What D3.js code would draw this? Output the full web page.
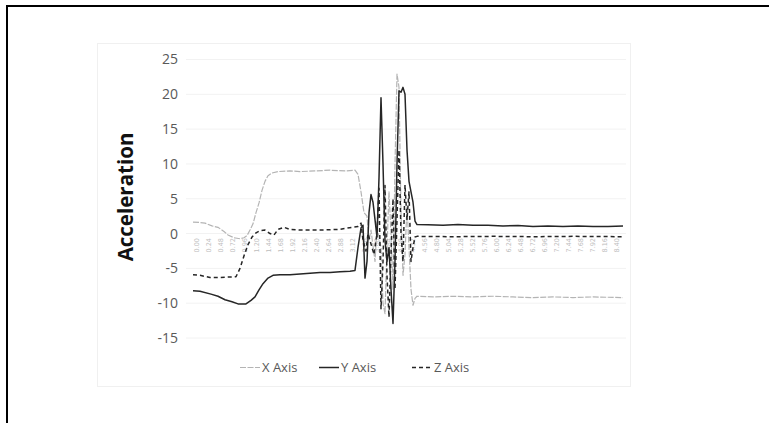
<!DOCTYPE html>
<html lang="en">
<head>
<meta charset="UTF-8">
<title>Acceleration</title>
<script src="https://d3js.org/d3.v7.min.js"></script>
<style>
  body { margin: 0; background: #fff; }
  svg { display: block; }
</style>
</head>
<body>
<svg id="chart" width="769" height="423"></svg>
<script>
// sample index -> acceleration
const xAxisData = [[0,1.65],[6,1.6],[12,1.5],[19,1.1],[25,0.9],[31,0.3],[35,-0.2],[41,-0.6],[47,-0.75],[51,-0.6],[54,-0.3],[57,0.5],[60,1.4],[63,3.0],[66,4.4],[69,6.2],[72,7.5],[75,8.3],[79,8.7],[85,8.9],[97,9.0],[107,8.9],[122,9.0],[137,9.1],[152,9.0],[162,9.1],[165,8.5],[168,6],[171,3],[174,2.5],[176,-1],[178,0.5],[182,-4],[184,1],[188,-2],[190,-10],[192,-11.5],[194,-2],[196,6],[198,0],[200,-8],[202,10],[204,22.9],[206,21],[208,3],[210,-6],[212,-3],[214,4],[216,-2],[218,-8],[220,-10.3],[222,-9.3],[224,-9.0],[240,-9.1],[260,-9.0],[280,-9.1],[300,-9.0],[320,-9.1],[340,-9.2],[360,-9.1],[380,-9.2],[400,-9.1],[430,-9.2]];
const yAxisData = [[0,-8.2],[7,-8.3],[18,-8.7],[25,-9.0],[32,-9.5],[39,-9.8],[45,-10.1],[53,-10.1],[58,-9.6],[62,-9.1],[66,-8.1],[70,-7.2],[75,-6.4],[80,-6.0],[87,-5.9],[97,-5.9],[107,-5.8],[117,-5.7],[127,-5.6],[137,-5.6],[147,-5.5],[157,-5.4],[162,-5.3],[165,-2],[168,0.8],[170,1.2],[172,-6.4],[174,-4],[176,3],[178,5.6],[180,4.5],[182,2],[184,-0.5],[186,8],[188,19.5],[190,10],[192,-1],[194,-4],[196,-2],[198,-8],[200,-12.9],[202,-4],[204,10],[206,20.5],[208,20.3],[210,21],[212,20],[214,12],[216,7.5],[218,6],[220,4.5],[222,1.8],[224,1.3],[235,1.25],[250,1.2],[265,1.3],[280,1.2],[295,1.2],[310,1.1],[325,1.15],[340,1.0],[355,1.1],[370,1.0],[385,1.1],[400,1.0],[415,1.0],[430,1.1]];
const zAxisData = [[0,-5.9],[7,-6.0],[17,-6.3],[27,-6.3],[43,-6.2],[47,-5.0],[51,-3.2],[55,-1.6],[59,-0.5],[63,0.1],[67,0.4],[72,0.5],[77,0.0],[81,-0.2],[85,0.6],[91,0.9],[97,0.6],[107,0.5],[127,0.5],[147,0.6],[159,0.9],[165,1.0],[168,1.5],[170,-1],[173,-2.5],[175,0],[178,-1.5],[181,-3],[184,0],[186,6.5],[188,-10.8],[190,-4],[192,6.9],[194,-6],[196,-12],[198,-3],[200,5],[202,-8],[204,2],[206,12],[208,0],[210,-4],[212,7],[214,2],[216,6],[218,-4],[220,-2],[222,-0.5],[224,-0.4],[260,-0.45],[300,-0.4],[340,-0.45],[380,-0.4],[430,-0.45]];

const yTicks = [-15, -10, -5, 0, 5, 10, 15, 20, 25];
// time labels on the category axis, one every 12 samples
const tickLabels = ["0.00","0.24","0.48","0.72","0.96","1.20","1.44","1.68","1.92","2.16","2.40","2.64","2.88","3.12","3.36","3.60","3.84","4.08","4.32","4.56","4.80","5.04","5.28","5.52","5.76","6.00","6.24","6.48","6.72","6.96","7.20","7.44","7.68","7.92","8.16","8.40"];
const samplesPerLabel = 12;

const seriesNames = ["X Axis", "Y Axis", "Z Axis"];
const seriesStyle = {
  "X Axis": { color: "#b4b4b4", width: 1.2, dash: "6,1.5" },
  "Y Axis": { color: "#262626", width: 1.5, dash: null },
  "Z Axis": { color: "#262626", width: 1.5, dash: "4,3" }
};

const svg = d3.select("#chart");

// outer frame (runs off the right and bottom edge)
svg.append("rect").attr("x", 7).attr("y", 6).attr("width", 800).attr("height", 460)
  .attr("fill", "none").attr("stroke", "#000").attr("stroke-width", 2);

// chart area
svg.append("rect").attr("x", 97.5).attr("y", 43.5).attr("width", 533).attr("height", 343)
  .attr("fill", "#fff").attr("stroke", "#f0f0f0");

const x = d3.scaleLinear().domain([0, 430]).range([193, 623]);
const y = d3.scaleLinear().domain([-15, 25]).range([338, 59.5]);

// gridlines
svg.append("g").selectAll("line").data(yTicks).enter().append("line")
  .attr("x1", 186).attr("x2", 626)
  .attr("y1", d => y(d)).attr("y2", d => y(d))
  .attr("stroke", "#f2f2f2").attr("stroke-width", 1);

// y axis labels
const yAxis = svg.append("g").attr("transform", "translate(178,0)")
  .call(d3.axisLeft(y).tickValues(yTicks).tickFormat(d => String(d)).tickSize(0).tickPadding(0));
yAxis.select(".domain").remove();
yAxis.selectAll("text").attr("font-family", "Open Sans, sans-serif")
  .attr("font-size", 14).attr("fill", "#595959");

// category labels under the zero line
svg.append("g").selectAll("text").data(tickLabels).enter().append("text")
  .attr("transform", (d, i) => `translate(${x(i * samplesPerLabel + 4) + 2},238) rotate(-90)`)
  .attr("text-anchor", "end")
  .attr("font-family", "DejaVu Sans, sans-serif")
  .attr("font-size", 6.5).attr("fill", "#bdbdbd")
  .text(d => d);

// axis title
svg.append("text")
  .attr("transform", "translate(133,197) rotate(-90)")
  .attr("text-anchor", "middle")
  .attr("font-family", "Open Sans, sans-serif")
  .attr("font-weight", "bold").attr("font-size", 20.5).attr("fill", "#111")
  .text("Acceleration");

// series
const line = d3.line().x(d => x(d[0])).y(d => y(d[1]));
const seriesData = { "X Axis": xAxisData, "Y Axis": yAxisData, "Z Axis": zAxisData };
seriesNames.forEach(name => {
  const s = seriesStyle[name];
  svg.append("path").datum(seriesData[name]).attr("d", line)
    .attr("fill", "none").attr("stroke", s.color).attr("stroke-width", s.width)
    .attr("stroke-dasharray", s.dash).attr("stroke-linejoin", "round");
});

// legend
const legendX = { "X Axis": 240, "Y Axis": 319, "Z Axis": 412 };
const legend = svg.append("g");
seriesNames.forEach(name => {
  const s = seriesStyle[name];
  const lx = legendX[name];
  legend.append("line").attr("x1", lx).attr("x2", lx + 20).attr("y1", 367.5).attr("y2", 367.5)
    .attr("stroke", s.color).attr("stroke-width", s.width).attr("stroke-dasharray", s.dash);
  legend.append("text").attr("x", lx + 22).attr("y", 367.5).attr("dy", "0.35em")
    .attr("font-family", "Open Sans, sans-serif").attr("font-size", 13).attr("fill", "#595959")
    .text(name);
});
</script>
</body>
</html>
